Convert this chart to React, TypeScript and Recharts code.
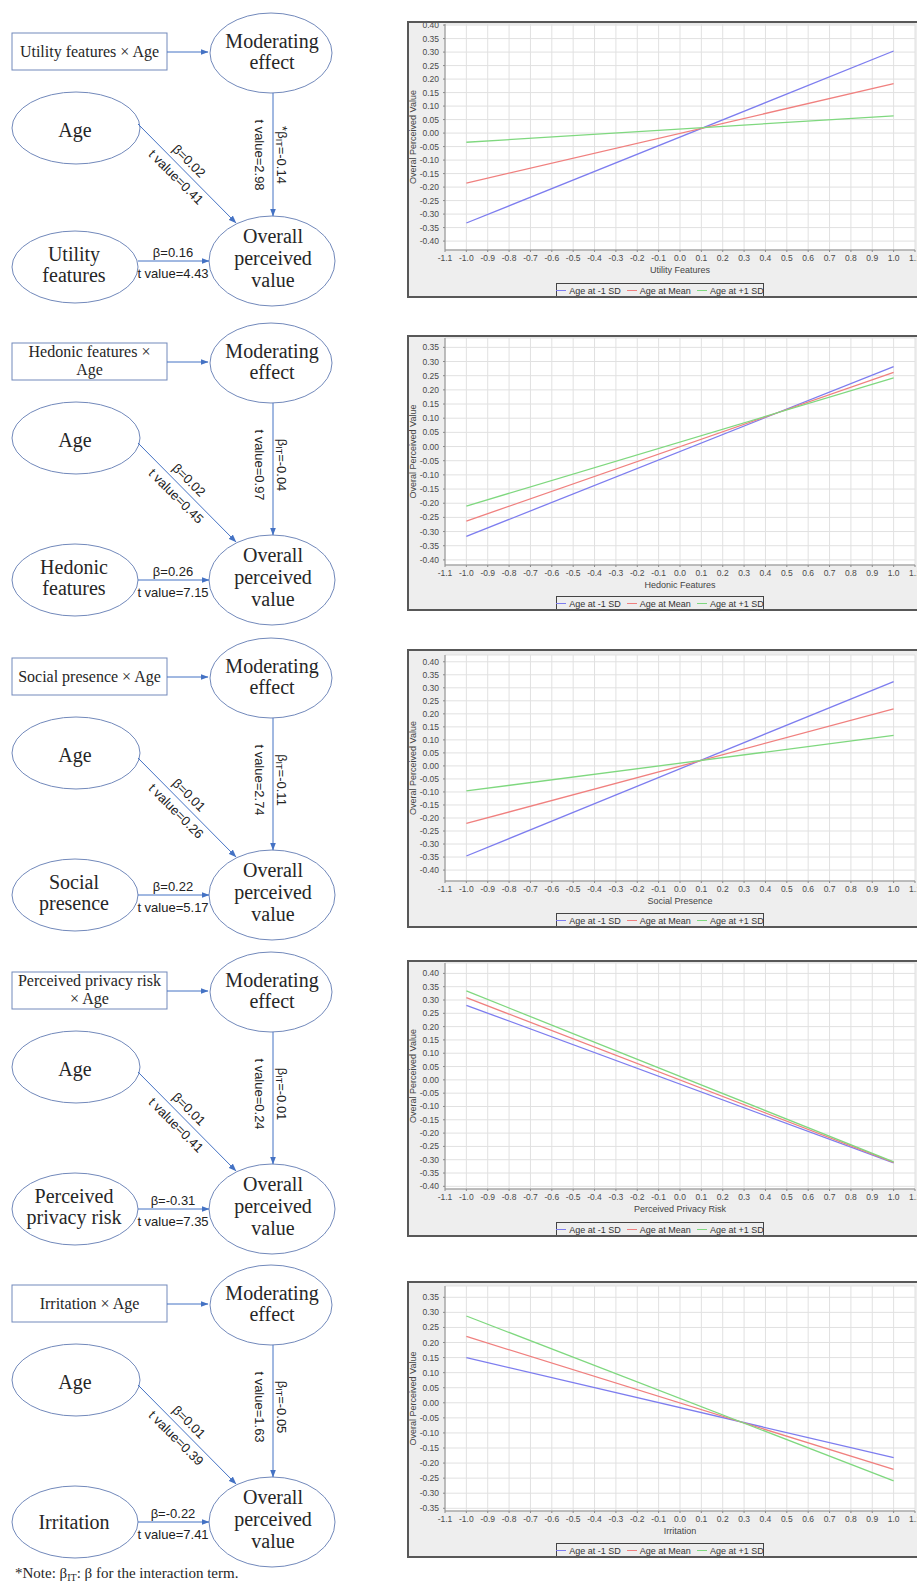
import React from 'react';
import { LineChart, Line, XAxis, YAxis, CartesianGrid } from 'recharts';

// ---- chart data ----
const xPoints = [-1.0, 1.0];
const xTicks = [-1.1, -1.0, -0.9, -0.8, -0.7, -0.6, -0.5, -0.4, -0.3, -0.2, -0.1, 0.0, 0.1, 0.2, 0.3, 0.4, 0.5, 0.6, 0.7, 0.8, 0.9, 1.0, 1.1];
const yTicks40 = [-0.4, -0.35, -0.3, -0.25, -0.2, -0.15, -0.1, -0.05, 0, 0.05, 0.1, 0.15, 0.2, 0.25, 0.3, 0.35, 0.4];
const yTicks40to35 = [-0.4, -0.35, -0.3, -0.25, -0.2, -0.15, -0.1, -0.05, 0, 0.05, 0.1, 0.15, 0.2, 0.25, 0.3, 0.35];
const yTicks35 = [-0.35, -0.3, -0.25, -0.2, -0.15, -0.1, -0.05, 0, 0.05, 0.1, 0.15, 0.2, 0.25, 0.3, 0.35];

const seriesNames = ['Age at -1 SD', 'Age at Mean', 'Age at +1 SD'];
const xAxisTitles = ['Utility Features', 'Hedonic Features', 'Social Presence', 'Perceived Privacy Risk', 'Irritation'];
const yAxisTitle = 'Overal Perceived Value';

// value at x=-1 and x=1 for each chart
const ageLow = [[-0.333, 0.304], [-0.317, 0.282], [-0.346, 0.324], [0.28, -0.312], [0.15, -0.182]];
const ageMean = [[-0.185, 0.183], [-0.263, 0.262], [-0.221, 0.219], [0.309, -0.31], [0.22, -0.221]];
const ageHigh = [[-0.034, 0.064], [-0.21, 0.242], [-0.096, 0.117], [0.334, -0.308], [0.288, -0.259]];
const yTickSets = [yTicks40, yTicks40to35, yTicks40, yTicks40, yTicks35];
const yDomains = [[-0.433, 0.404], [-0.418, 0.383], [-0.442, 0.426], [-0.41, 0.439], [-0.359, 0.3875]];

// ---- diagram text ----
const boxLines = [['Utility features × Age'], ['Hedonic features ×', 'Age'], ['Social presence × Age'], ['Perceived privacy risk', '× Age'], ['Irritation × Age']];
const predictorLines = [['Utility', 'features'], ['Hedonic', 'features'], ['Social', 'presence'], ['Perceived', 'privacy risk'], ['Irritation']];
const betaIT = ['-0.14', '-0.04', '-0.11', '-0.01', '-0.05'];
const tIT = ['2.98', '0.97', '2.74', '0.24', '1.63'];
const betaAge = ['0.02', '0.02', '0.01', '0.01', '0.01'];
const tAge = ['0.41', '0.45', '0.26', '0.41', '0.39'];
const betaMain = ['0.16', '0.26', '0.22', '-0.31', '-0.22'];
const tMain = ['4.43', '7.15', '5.17', '7.35', '7.41'];

// ---- layout ----
const frames = [
  { top: 21, bottom: 298, plotTop: 24, plotBottom: 250 },
  { top: 335, bottom: 611, plotTop: 338, plotBottom: 565 },
  { top: 649, bottom: 928, plotTop: 655, plotBottom: 881 },
  { top: 960, bottom: 1237, plotTop: 963, plotBottom: 1189 },
  { top: 1281, bottom: 1558, plotTop: 1286, plotBottom: 1511 },
];
const blockTops = [0, 310, 625, 939, 1252];
const rowShift = [-9, 0, 0, 0, 0];
const predShift = [-3, 0, 0, 0, 0];

const colors = ['#7d7def', '#f0807f', '#7fd87f'];
const sans = '"Liberation Sans", Arial, sans-serif';
const serif = '"Liberation Serif", "Times New Roman", serif';
const shapeStroke = '#7289bb';
const arrowColor = '#4472c4';
const textColor = '#262626';
const CW = 520;

function InteractionChart({ i }: { i: number }) {
  const f = frames[i];
  const H = f.bottom - f.top;
  const xAxisH = 14;
  const data = xPoints.map((x, k) => ({ x, low: ageLow[i][k], mean: ageMean[i][k], high: ageHigh[i][k] }));
  const tick = { fontSize: 8.5, fill: '#4a4a4a', fontFamily: sans };
  const keys = ['low', 'mean', 'high'];
  return (
    <div style={{ position: 'absolute', left: 407, top: f.top, width: CW, height: H, background: '#eeeeee' }}>
      <LineChart
        width={CW}
        height={H}
        data={data}
        margin={{ top: f.plotTop - f.top, right: 12, bottom: H - (f.plotBottom - f.top) - xAxisH, left: 0 }}
      >
        <CartesianGrid stroke="#e1e1e1" fill="#ffffff" />
        <XAxis
          type="number"
          dataKey="x"
          domain={[-1.1, 1.1]}
          ticks={xTicks}
          interval={0}
          allowDataOverflow
          height={xAxisH}
          tickFormatter={(v: number) => v.toFixed(1)}
          tick={tick}
          tickSize={2}
          tickMargin={3}
          stroke="#8a8a8a"
          label={{ value: xAxisTitles[i], position: 'bottom', offset: 3, fontSize: 9, fill: '#444', fontFamily: sans }}
        />
        <YAxis
          type="number"
          domain={yDomains[i]}
          ticks={yTickSets[i]}
          interval={0}
          allowDataOverflow
          width={38}
          tickFormatter={(v: number) => v.toFixed(2)}
          tick={tick}
          tickSize={2}
          tickMargin={4}
          stroke="#8a8a8a"
          label={{ value: yAxisTitle, angle: -90, position: 'insideLeft', offset: 6, fontSize: 9, fill: '#444', fontFamily: sans, style: { textAnchor: 'middle' } }}
        />
        {keys.map((k, s) => (
          <Line key={k} type="linear" dataKey={k} name={seriesNames[s]} stroke={colors[s]} strokeWidth={1.3} dot={false} activeDot={false} isAnimationActive={false} />
        ))}
      </LineChart>
      <div
        style={{
          position: 'absolute', left: 149, top: H - 15, width: 208, height: 15, boxSizing: 'border-box',
          border: '1px solid #444', background: '#eeeeee', display: 'flex', alignItems: 'center', justifyContent: 'center',
          fontFamily: sans, fontSize: 9, color: '#333', whiteSpace: 'nowrap',
        }}
      >
        {seriesNames.map((n, s) => (
          <span key={n} style={{ display: 'flex', alignItems: 'center', marginLeft: s === 0 ? 0 : 6 }}>
            <span style={{ display: 'inline-block', width: 10, height: 1.3, background: colors[s], marginRight: 3 }} />
            {n}
          </span>
        ))}
      </div>
      <div style={{ position: 'absolute', left: 0, top: 0, width: CW, height: H, boxSizing: 'border-box', border: '2px solid #585858', pointerEvents: 'none' }} />
    </div>
  );
}

function Block({ i }: { i: number }) {
  const s = rowShift[i];
  const ps = predShift[i];
  const serifText = { fontFamily: serif, fill: textColor, textAnchor: 'middle' as const };
  const sansText = { fontFamily: sans, fontSize: 13, fill: '#222', textAnchor: 'middle' as const };
  const box = boxLines[i];
  const pred = predictorLines[i];
  return (
    <g transform={`translate(0, ${blockTops[i]})`}>
      <rect x={12} y={33} width={155} height={37} fill="#fff" stroke={shapeStroke} />
      {box.map((t, k) => (
        <text key={k} x={89.5} y={box.length === 1 ? 57 : 47 + 18 * k} fontSize={16} {...serifText}>{t}</text>
      ))}
      <ellipse cx={271} cy={53} rx={61} ry={40} fill="#fff" stroke={shapeStroke} />
      <text x={272} y={48} fontSize={20} {...serifText}>Moderating</text>
      <text x={272} y={69} fontSize={20} {...serifText}>effect</text>

      <ellipse cx={76} cy={128} rx={64} ry={36} fill="#fff" stroke={shapeStroke} />
      <text x={75} y={137} fontSize={20} {...serifText}>Age</text>

      <ellipse cx={75} cy={270 + ps} rx={63} ry={36} fill="#fff" stroke={shapeStroke} />
      {pred.map((t, k) => (
        <text key={k} x={74} y={(pred.length === 1 ? 277 : 264 + 21 * k) + ps} fontSize={20} {...serifText}>{t}</text>
      ))}

      <ellipse cx={272} cy={270 + s} rx={63} ry={45} fill="#fff" stroke={shapeStroke} />
      {['Overall', 'perceived', 'value'].map((t, k) => (
        <text key={t} x={273} y={252 + 22 * k + s} fontSize={20} {...serifText}>{t}</text>
      ))}

      <line x1={167} y1={52} x2={208} y2={52} stroke={arrowColor} markerEnd="url(#arr)" />
      <line x1={273} y1={93} x2={273} y2={225 + s} stroke={arrowColor} markerEnd="url(#arr)" />
      <line x1={138} y1={133 + s} x2={236} y2={232 + s} stroke={arrowColor} markerEnd="url(#arr)" />
      <line x1={138} y1={270 + s} x2={209} y2={270 + s} stroke={arrowColor} markerEnd="url(#arr)" />

      <text transform="translate(282, 155) rotate(90)" dominantBaseline="central" {...sansText}>
        {i === 0 ? '*β' : 'β'}
        <tspan fontSize={9} dy={3}>IT</tspan>
        <tspan dy={-3}>{'=' + betaIT[i]}</tspan>
      </text>
      <text transform="translate(259, 155) rotate(90)" dominantBaseline="central" {...sansText}>{'t value=' + tIT[i]}</text>

      <text transform={`translate(189, ${170 + s}) rotate(45)`} dominantBaseline="central" {...sansText}>{'β=' + betaAge[i]}</text>
      <text transform={`translate(176, ${186 + s}) rotate(45)`} dominantBaseline="central" {...sansText}>{'t value=' + tAge[i]}</text>

      <text x={173} y={266 + s} {...sansText}>{'β=' + betaMain[i]}</text>
      <text x={173} y={287 + s} {...sansText}>{'t value=' + tMain[i]}</text>
    </g>
  );
}

export default function App() {
  return (
    <div style={{ position: 'absolute', left: 0, top: 0, width: 917, height: 1591, overflow: 'hidden', background: '#fff' }}>
      <svg width={400} height={1591} style={{ position: 'absolute', left: 0, top: 0 }}>
        <defs>
          <marker id="arr" markerWidth={8} markerHeight={6} refX={7.5} refY={3} orient="auto" markerUnits="userSpaceOnUse">
            <path d="M0,0 L8,3 L0,6 z" fill={arrowColor} />
          </marker>
        </defs>
        {blockTops.map((_, i) => <Block key={i} i={i} />)}
        <text x={15} y={1578} fontFamily={serif} fontSize={15} fill={textColor}>
          *Note: β<tspan fontSize={10} dy={3}>IT</tspan><tspan dy={-3}>: β for the interaction term.</tspan>
        </text>
      </svg>
      {frames.map((_, i) => <InteractionChart key={i} i={i} />)}
    </div>
  );
}
